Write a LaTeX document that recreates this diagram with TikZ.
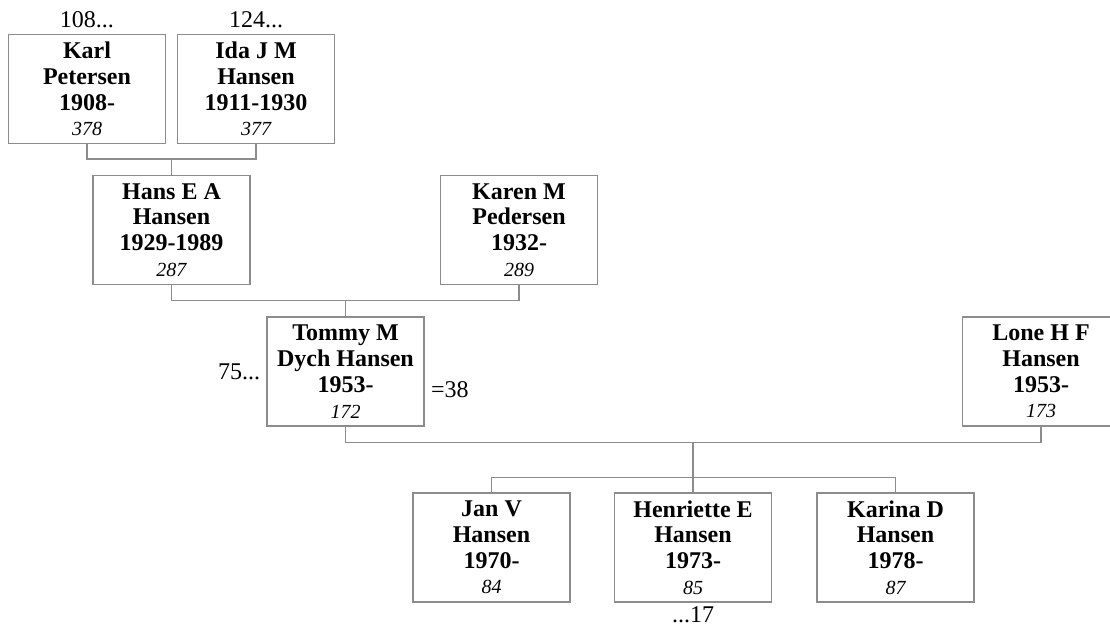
\documentclass[tikz,border=0pt]{standalone}
\usepackage{fontspec}
\setmainfont{Liberation Serif}
\usetikzlibrary{calc}
\definecolor{treeline}{HTML}{8C8C8C}
\newcommand{\refno}[1]{{\fontsize{10}{12}\selectfont\mdseries\itshape #1}}

\begin{document}
\begin{tikzpicture}[x=0.5pt,y=-0.5pt,
 person/.style={draw=treeline,line width=0.6pt,align=center,minimum width=78.5pt,minimum height=54.5pt,inner sep=0pt,font=\fontsize{12}{12.9}\selectfont\bfseries},
 link/.style={draw=treeline,line width=0.6pt},
 tag/.style={font=\fontsize{12}{14}\selectfont,inner sep=3pt}]
\useasboundingbox (0,0) rectangle (1110,625);
% grandparents
\node[person] (karl) at (87,89) {Karl\\ Petersen\\ 1908-\\ \refno{378}};
\node[person] (ida) at (256,89) {Ida J M\\ Hansen\\ 1911-1930\\ \refno{377}};
% parents
\node[person] (hans) at (171.5,230) {Hans E A\\ Hansen\\ 1929-1989\\ \refno{287}};
\node[person] (karen) at (519,230) {Karen M\\ Pedersen\\ 1932-\\ \refno{289}};
% couple
\node[person] (tommy) at (345.5,371.5) {Tommy M\\ Dych Hansen\\ 1953-\\ \refno{172}};
\node[person] (lone) at (1041,371.5) {Lone H F\\ Hansen\\ 1953-\\ \refno{173}};
% children
\node[person] (jan) at (491.5,547.5) {Jan V\\ Hansen\\ 1970-\\ \refno{84}};
\node[person] (henr) at (693,547.5) {Henriette E\\ Hansen\\ 1973-\\ \refno{85}};
\node[person] (karina) at (895.5,547.5) {Karina D\\ Hansen\\ 1978-\\ \refno{87}};
% references
\node[tag,above] (karlref) at (karl.north) {108...};
\node[tag,above] (idaref) at (ida.north) {124...};
\node[tag,left] (tommyref) at (tommy.west) {75...};
\node[tag,anchor=west] (tommywed) at ([yshift=-9pt]tommy.east) {=38};
\node[tag,below,inner sep=1.8pt] (henrref) at (henr.south) {...17};
% lines
\draw[link] (karl.south) -- ++(0,15) coordinate (bar1) -| (ida.south);
\draw[link] (hans.north) -- (hans.north |- bar1);
\draw[link] (hans.south) -- ++(0,15.7) coordinate (bar2) -| (karen.south);
\draw[link] (tommy.north) -- (tommy.north |- bar2);
\draw[link] (tommy.south) -- ++(0,16) coordinate (bar3) -| (lone.south);
\draw[link] (henr.north) -- (henr.north |- bar3);
\draw[link] (jan.north) -- ++(0,-15) -| (karina.north);
\end{tikzpicture}
\end{document}
